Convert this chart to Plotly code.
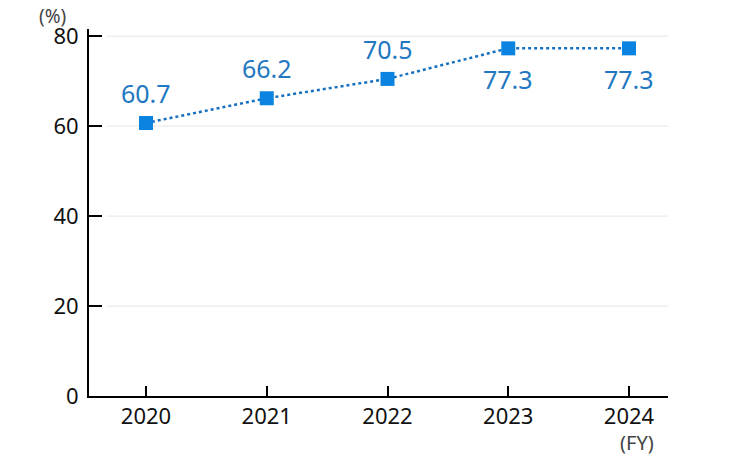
import plotly.graph_objects as go

years = [2020, 2021, 2022, 2023, 2024]
values = [60.7, 66.2, 70.5, 77.3, 77.3]
label_below = [False, False, False, True, True]
y_ticks = [0, 20, 40, 60, 80]

fig = go.Figure()
fig.add_trace(go.Scatter(
    x=years, y=values, mode="lines+markers",
    line=dict(color="#1670c0", width=2.5, dash="dot"),
    marker=dict(symbol="square", size=14, color="#0a84e0"),
    cliponaxis=False, showlegend=False,
))

for x, v, below in zip(years, values, label_below):
    fig.add_annotation(x=x, y=v, text=f"{v:.1f}", showarrow=False,
                       xanchor="center", yanchor="middle",
                       yshift=-31 if below else 30,
                       font=dict(size=25, color="#1f78c1", family="Noto Sans"))

# gridlines starting slightly right of the axis
for t in y_ticks[1:]:
    fig.add_shape(type="line", xref="paper", yref="y", x0=0.031, x1=1, y0=t, y1=t,
                  line=dict(color="#e6e6e6", width=1), layer="below")

fig.add_annotation(text="(%)", xref="paper", yref="paper", x=-0.063, y=1.0, xanchor="center",
                   yanchor="middle", yshift=13, showarrow=False,
                   font=dict(size=19, color="#444444", family="Noto Sans"))
fig.add_annotation(text="(FY)", xref="paper", yref="paper", x=0.947, y=0, xanchor="center",
                   yanchor="middle", yshift=-46, showarrow=False,
                   font=dict(size=20, color="#444444", family="Noto Sans"))

fig.update_layout(
    width=740, height=460,
    margin=dict(l=81, r=80, t=21, b=72),
    paper_bgcolor="white", plot_bgcolor="white",
    font=dict(family="Noto Sans", size=22, color="#111111"),
    xaxis=dict(range=[2019.528, 2024.323], tickvals=years, ticktext=[str(y) for y in years],
               showgrid=False, showline=True, linecolor="black", linewidth=2,
               ticks="inside", ticklen=10, tickwidth=1.5, tickcolor="black",
               zeroline=False, tickfont=dict(size=22)),
    yaxis=dict(range=[0, 81.6], tickvals=y_ticks, showgrid=False,
               showline=True, linecolor="black", linewidth=2,
               ticks="inside", ticklen=13, tickwidth=2, tickcolor="black",
               zeroline=False, tickfont=dict(size=22), ticklabelstandoff=4),
)

fig.write_html("out.html")
